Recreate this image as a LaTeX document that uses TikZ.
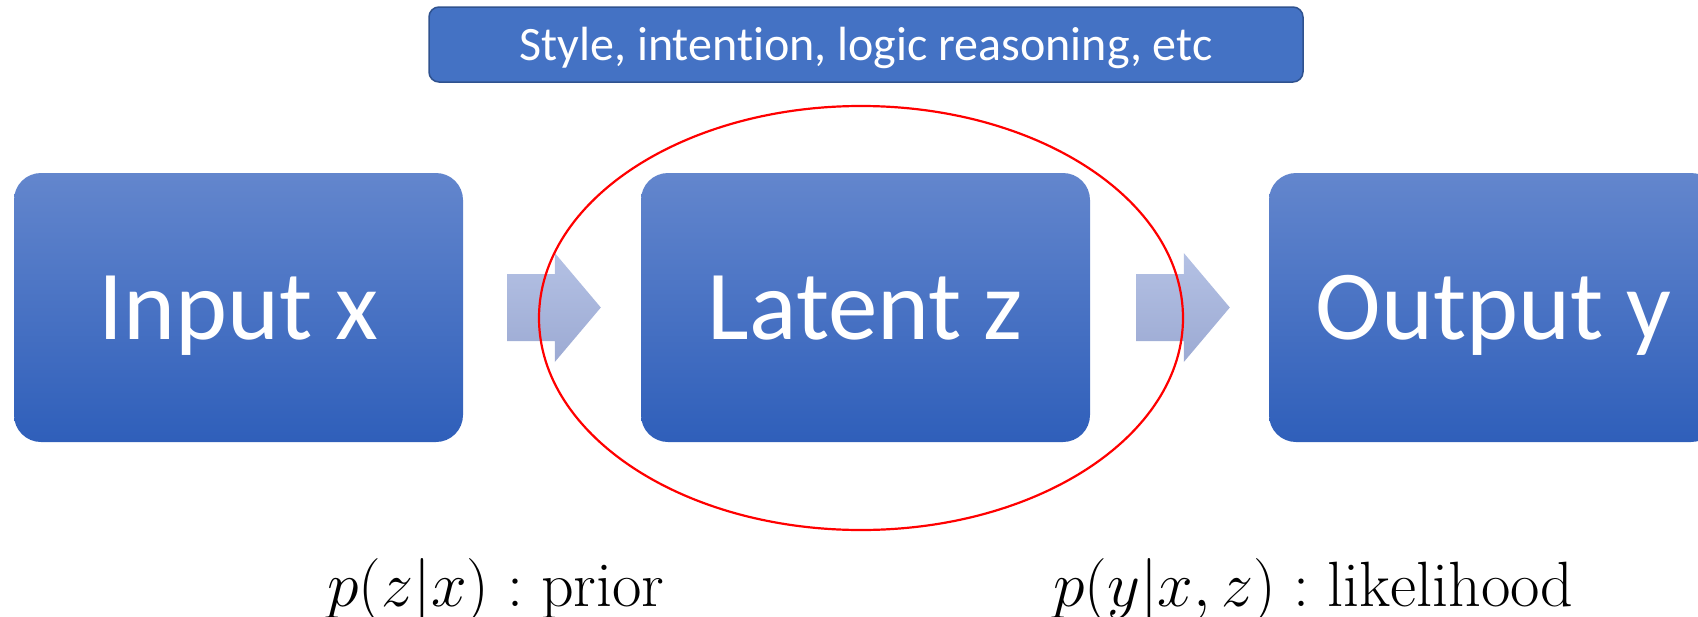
\RequirePackage{fix-cm}
\documentclass[tikz,border=0pt]{standalone}
\usepackage{fontspec}
\newfontfamily\boxfont[Ligatures=NoCommon]{Carlito}
\usetikzlibrary{shapes.geometric,calc}
\definecolor{boxtop}{HTML}{6386CD}
\definecolor{boxbot}{HTML}{2F5FBA}
\definecolor{bannerfill}{HTML}{4472C4}
\definecolor{bannerline}{HTML}{2F528F}
\definecolor{arrtop}{HTML}{B4C1E4}
\definecolor{arrbot}{HTML}{9CAAD3}
\definecolor{ringred}{HTML}{FF0000}

% block arrow from start coordinate #1 to tip coordinate #2
\newcommand\blockarrow[2]{%
  \shade[top color=arrtop, bottom color=arrbot]
    ($(#1)+(0,-33.5)$) -- ($(#2)+(-46,-33.5)$) -- ($(#2)+(-46,-54.5)$) --
    (#2) -- ($(#2)+(-46,54.5)$) -- ($(#2)+(-46,33.5)$) --
    ($(#1)+(0,33.5)$) -- cycle;}

\begin{document}
\begin{tikzpicture}[x=1pt, y=-1pt,
  stage/.style={rounded corners=27pt, top color=boxtop, bottom color=boxbot,
    minimum width=449pt, minimum height=269pt, inner sep=0pt, text=white,
    font=\boxfont\fontsize{99}{110}\selectfont, text height=64pt, text depth=0pt},
  banner/.style={draw=bannerline, fill=bannerfill, line width=1.5pt,
    rounded corners=10pt, minimum width=874pt, minimum height=75pt, inner sep=0pt,
    text=white, font=\boxfont\fontsize{48}{56}\selectfont, text height=31pt, text depth=0pt},
  formula/.style={anchor=base, inner sep=0pt, font=\fontsize{64}{74}\selectfont},
  ring/.style={ellipse, draw=ringred, line width=2.2pt, inner sep=0pt,
    minimum width=644pt, minimum height=424pt}]
  \useasboundingbox (0,0) rectangle (1698,616);
  \clip (0,0) rectangle (1698,616);

  % top banner
  \node[banner] (topic) at (866,44.5) {Style, intention, logic reasoning, etc};

  % the three stages
  \node[stage] (in)  at (238.5,307.5)  {Input x};
  \node[stage] (lat) at (865.5,307.5)  {Latent z};
  \node[stage] (out) at (1493.5,307.5) {Output y};

  % block arrows between stages
  \coordinate (a1s) at ($(in.east)+(44,0)$);
  \coordinate (a1t) at ($(lat.west)+(-40,0)$);
  \coordinate (a2s) at ($(lat.east)+(46,0)$);
  \coordinate (a2t) at ($(out.west)+(-39,0)$);
  \blockarrow{a1s}{a1t}
  \blockarrow{a2s}{a2t}

  % highlight around the latent variable
  \node[ring] (focus) at (861,318) {};

  % distributions
  \node[formula] (prior) at (496,606)  {$p(z|x):\mathrm{prior}$};
  \node[formula] (lik)   at (1313,606) {$p(y|x,z):\mathrm{likelihood}$};
\end{tikzpicture}
\end{document}
